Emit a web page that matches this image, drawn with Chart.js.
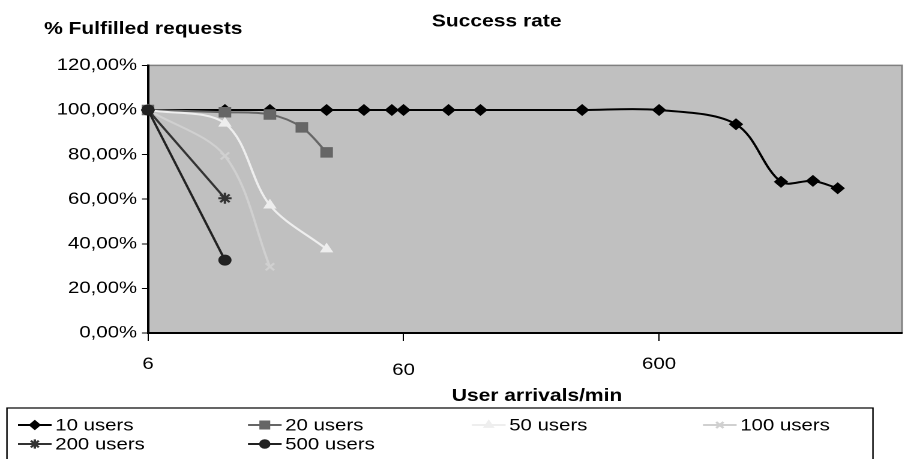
<!DOCTYPE html>
<html>
<head>
<meta charset="utf-8">
<script src="https://cdn.jsdelivr.net/npm/chart.js@4.4.1/dist/chart.umd.min.js"></script>
<style>
  html, body { margin: 0; padding: 0; background: #fff; overflow: hidden; }
  /* the chart is laid out 754px wide and widened to the 905px page */
  #wrap { width: 754px; height: 459px; transform: scaleX(1.20027); transform-origin: 0 0; }
</style>
</head>
<body>
<div id="wrap"><canvas id="c" width="754" height="459"></canvas></div>
<script>
// ---- data ----
const SERIES_NAMES = ['10 users', '20 users', '50 users', '100 users', '200 users', '500 users'];

const ARRIVALS_10 = [6, 12, 18, 30, 42, 54, 60, 90, 120, 300, 600, 1200, 1800, 2400, 3000];
const RATE_10     = [100, 100, 100, 100, 100, 100, 100, 100, 100, 100, 100, 93.6, 67.8, 68.2, 64.9];

const ARRIVALS_20 = [6, 12, 18, 24, 30];
const RATE_20     = [100, 99, 98, 92.2, 81];

const ARRIVALS_50 = [6, 12, 18, 30];
const RATE_50     = [100, 94, 57.3, 37.6];

const ARRIVALS_100 = [6, 12, 18];
const RATE_100     = [100, 79.4, 29.7];

const ARRIVALS_200 = [6, 12];
const RATE_200     = [100, 60.4];

const ARRIVALS_500 = [6, 12];
const RATE_500     = [100, 32.7];

const X_TICKS = [6, 60, 600];
const Y_TICKS = [0, 20, 40, 60, 80, 100, 120];

// ---- styling ----
const FONT = '"Liberation Sans", Arial, sans-serif';
const STYLES = [
  { color: '#000000', point: 'rectRot',  radius: 5.3, bw: 1 },
  { color: '#666666', point: 'rect',     radius: 6.7, bw: 1 },
  { color: '#eeeeee', point: 'triangle', radius: 5.5, bw: 1 },
  { color: '#d0d0d0', point: 'crossRot', radius: 5,   bw: 2 },
  { color: '#333333', point: 'star',     radius: 5.5, bw: 2 },
  { color: '#222222', point: 'circle',   radius: 5,   bw: 1 }
];
const SERIES = [
  [ARRIVALS_10, RATE_10],
  [ARRIVALS_20, RATE_20],
  [ARRIVALS_50, RATE_50],
  [ARRIVALS_100, RATE_100],
  [ARRIVALS_200, RATE_200],
  [ARRIVALS_500, RATE_500]
];

const datasets = SERIES.map(([xs, ys], i) => ({
  label: SERIES_NAMES[i],
  data: xs.map((x, k) => ({ x: x, y: ys[k] })),
  borderColor: STYLES[i].color,
  backgroundColor: STYLES[i].color,
  pointBackgroundColor: STYLES[i].color,
  pointBorderColor: STYLES[i].color,
  pointStyle: STYLES[i].point,
  pointRadius: STYLES[i].radius,
  pointBorderWidth: STYLES[i].bw,
  borderWidth: 2,
  tension: 0.33,
  clip: false,
  order: SERIES.length - i
}));

// plot frame, titles and the boxed legend
const framePlugin = {
  id: 'frame',
  beforeDraw(chart) {
    const { ctx, chartArea: a } = chart;
    ctx.save();
    ctx.fillStyle = '#ffffff';
    ctx.fillRect(0, 0, chart.width, chart.height);
    ctx.fillStyle = '#c0c0c0';
    ctx.fillRect(a.left, a.top, a.right - a.left, a.bottom - a.top);
    ctx.strokeStyle = '#808080';
    ctx.lineWidth = 1.5;
    ctx.beginPath();
    ctx.moveTo(a.left, a.top);
    ctx.lineTo(a.right, a.top);
    ctx.lineTo(a.right, a.bottom);
    ctx.stroke();
    ctx.restore();
  },
  afterDraw(chart) {
    const ctx = chart.ctx;
    ctx.save();
    ctx.fillStyle = '#000';
    ctx.textBaseline = 'alphabetic';
    ctx.font = 'bold 17.5px ' + FONT;
    ctx.textAlign = 'left';
    ctx.fillText('% Fulfilled requests', 36.7, 34);
    ctx.textAlign = 'center';
    ctx.fillText('Success rate', 413.8, 26.5);
    ctx.fillText('User arrivals/min', 447.4, 401);

    // legend box
    ctx.strokeStyle = '#000';
    ctx.lineWidth = 1.2;
    ctx.strokeRect(5.8, 408, 721.5, 70);

    const colX = [15, 206.6, 393.2, 585.7];
    const rowY = [425, 444];
    ctx.font = '17px ' + FONT;
    ctx.textAlign = 'left';
    ctx.textBaseline = 'middle';
    chart.data.datasets.forEach((ds, i) => {
      const x = colX[i % 4], y = rowY[Math.floor(i / 4)];
      const st = STYLES[i];
      ctx.strokeStyle = st.color;
      ctx.fillStyle = st.color;
      ctx.lineWidth = 2;
      ctx.beginPath();
      ctx.moveTo(x, y);
      ctx.lineTo(x + 28, y);
      ctx.stroke();
      ctx.lineWidth = st.bw;
      Chart.helpers.drawPoint(ctx, {
        pointStyle: st.point, rotation: 0, radius: st.radius * 0.85, borderWidth: st.bw
      }, x + 14, y);
      ctx.fillStyle = '#000';
      ctx.fillText(ds.label, x + 31, y + 1);
    });
    ctx.restore();
  }
};

const pctLabel = v => v.toFixed(2).replace('.', ',') + '%';

new Chart(document.getElementById('c'), {
  type: 'line',
  data: { datasets: datasets },
  plugins: [framePlugin],
  options: {
    responsive: false,
    animation: false,
    devicePixelRatio: 2,
    layout: { autoPadding: false, padding: { top: 65.4, right: 2.5, left: 0, bottom: 0 } },
    plugins: { legend: { display: false }, tooltip: { enabled: false }, title: { display: false } },
    scales: {
      x: {
        type: 'logarithmic',
        min: 6,
        max: 5356,
        afterBuildTicks: s => { s.ticks = X_TICKS.map(v => ({ value: v })); },
        afterFit: s => { s.height = 126; s.paddingLeft = 0; s.paddingRight = 0; },
        border: { display: true, color: '#000', width: 2 },
        grid: { drawOnChartArea: false, drawTicks: true, tickLength: 8, color: '#000', lineWidth: 1 },
        ticks: {
          autoSkip: false,
          maxRotation: 0,
          padding: 13,
          color: '#000',
          callback: v => String(v),
          font: c => ({ family: FONT, size: 17, lineHeight: (c.tick && c.tick.value === 60) ? '32.4px' : '20.4px' })
        }
      },
      y: {
        type: 'linear',
        min: 0,
        max: 120,
        afterBuildTicks: s => { s.ticks = Y_TICKS.map(v => ({ value: v })); },
        afterFit: s => { s.width = 123.3; s.paddingTop = 0; s.paddingBottom = 0; },
        border: { display: true, color: '#000', width: 2 },
        grid: { drawOnChartArea: false, drawTicks: true, tickLength: 5, color: '#000', lineWidth: 1 },
        ticks: {
          padding: 4,
          color: '#000',
          font: { family: FONT, size: 17 },
          callback: pctLabel
        }
      }
    }
  }
});
</script>
</body>
</html>
